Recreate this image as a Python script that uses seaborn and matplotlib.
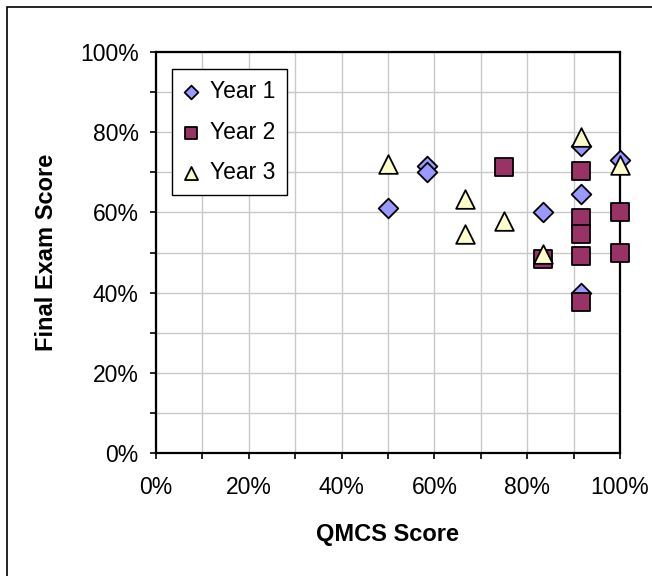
import matplotlib
matplotlib.use('Agg')
import matplotlib.pyplot as plt
from matplotlib.patches import Rectangle
from matplotlib.ticker import MultipleLocator, PercentFormatter
import pandas as pd
import seaborn as sns

# Dados (em %)
anos = ['Year 1', 'Year 2', 'Year 3']
ano1_qmcs = [50, 58.3, 58.3, 83.3, 91.7, 91.7, 91.7, 100]
ano1_exame = [61.2, 71.6, 70.0, 60.2, 64.7, 76.6, 39.8, 73.0]
ano2_qmcs = [75, 83.3, 91.7, 91.7, 91.7, 91.7, 91.7, 100, 100]
ano2_exame = [71.4, 48.3, 70.3, 58.6, 54.6, 49.1, 37.6, 60.1, 49.9]
ano3_qmcs = [50, 66.7, 66.7, 75, 83.3, 91.7, 100]
ano3_exame = [72.1, 63.3, 54.6, 57.9, 49.6, 78.8, 71.8]

cores = {'Year 1': '#9999FF', 'Year 2': '#993366', 'Year 3': '#FFFFCC'}
marcadores = {'Year 1': 'D', 'Year 2': 's', 'Year 3': '^'}
tamanhos = {'Year 1': 100, 'Year 2': 150, 'Year 3': 180}

df = pd.concat([
    pd.DataFrame({'QMCS': ano1_qmcs, 'Exame': ano1_exame, 'Ano': 'Year 1'}),
    pd.DataFrame({'QMCS': ano2_qmcs, 'Exame': ano2_exame, 'Ano': 'Year 2'}),
    pd.DataFrame({'QMCS': ano3_qmcs, 'Exame': ano3_exame, 'Ano': 'Year 3'}),
], ignore_index=True)

sns.set_style('white')
plt.rcParams['font.family'] = ['Liberation Sans', 'DejaVu Sans']
plt.rcParams['text.color'] = 'black'
plt.rcParams['axes.labelcolor'] = 'black'
plt.rcParams['xtick.color'] = 'black'
plt.rcParams['ytick.color'] = 'black'

fig = plt.figure(figsize=(6.52, 5.76), dpi=100)
ax = fig.add_axes([156 / 652, 1 - 453 / 576, 464 / 652, 401 / 576])

for ano in anos:
    sns.scatterplot(data=df[df['Ano'] == ano], x='QMCS', y='Exame', ax=ax,
                    color=cores[ano], marker=marcadores[ano], s=tamanhos[ano],
                    edgecolor='black', linewidth=1.3, label=ano,
                    clip_on=False, zorder=3)

ax.set_xlim(0, 100)
ax.set_ylim(0, 100)
ax.xaxis.set_major_locator(MultipleLocator(20))
ax.yaxis.set_major_locator(MultipleLocator(20))
ax.xaxis.set_minor_locator(MultipleLocator(10))
ax.yaxis.set_minor_locator(MultipleLocator(10))
ax.xaxis.set_major_formatter(PercentFormatter(100, decimals=0))
ax.yaxis.set_major_formatter(PercentFormatter(100, decimals=0))
ax.grid(True, which='both', color='#C8C8C8', linewidth=1.0, zorder=0)
ax.set_axisbelow(True)
for lado in ax.spines.values():
    lado.set_color('black')
    lado.set_linewidth(1.6)

ax.tick_params(which='both', direction='out', length=4.5, width=1.2,
               color='black', bottom=True, left=True)
ax.tick_params(axis='x', which='major', labelsize=16.5, pad=12)
ax.tick_params(axis='y', which='major', labelsize=16.5, pad=8)

ax.set_xlabel('QMCS Score', fontsize=17, fontweight='bold')
ax.set_ylabel('Final Exam Score', fontsize=17, fontweight='bold')
ax.xaxis.set_label_coords(0.5, (453 - 534) / 401)
ax.yaxis.set_label_coords((47 - 156) / 464, 0.5)
ax.xaxis.label.set_va('center')
ax.yaxis.label.set_va('center')

leg = ax.legend(loc='upper left', bbox_to_anchor=(16 / 464, (453 - 69) / 401),
                borderaxespad=0, fontsize=16.5, frameon=True, fancybox=False,
                edgecolor='black', markerscale=0.7, handlelength=0.7,
                handletextpad=0.45, labelspacing=0.75, borderpad=0.5)
leg.get_frame().set_linewidth(1.0)
leg.get_frame().set_alpha(1)

# moldura externa (so aparecem as bordas esquerda e superior)
fig.add_artist(Rectangle((7 / 652, -0.2), 1.3, (576 - 7) / 576 + 0.2,
                         transform=fig.transFigure, fill=False,
                         edgecolor='black', linewidth=1.2))

plt.savefig('out.png', dpi=100)
plt.close()
